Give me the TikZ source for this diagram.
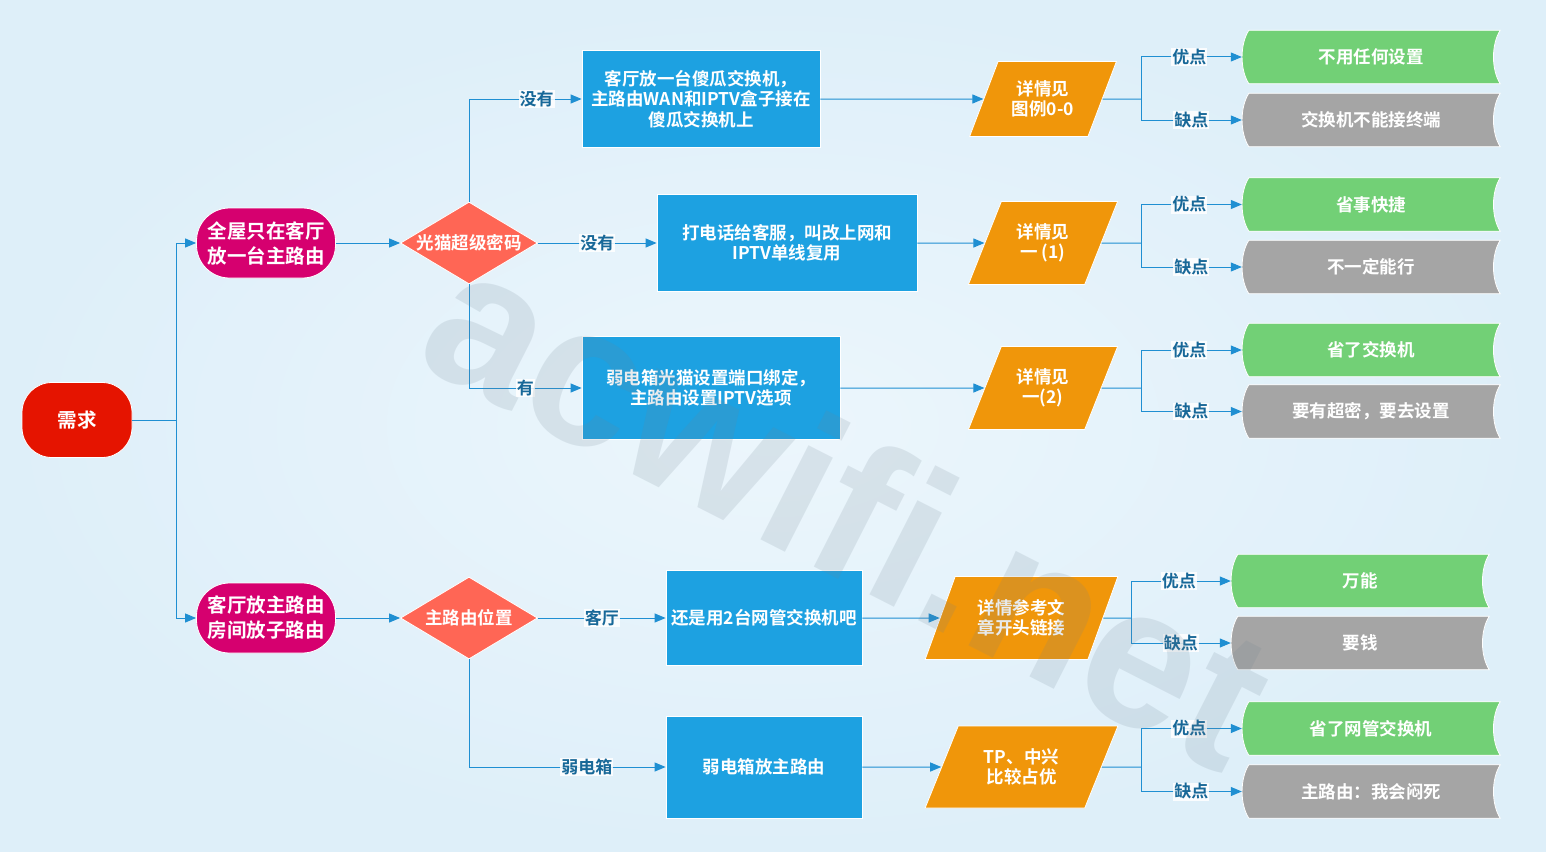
\documentclass[tikz,border=0pt]{standalone}
\usepackage{fontspec}
\setmainfont{Noto Sans CJK SC}[BoldFont={* Bold}]
\newfontfamily\wmfont{Liberation Sans}
\usetikzlibrary{shapes.geometric,arrows.meta,backgrounds}
\pgfdeclarelayer{bgl}
\pgfsetlayers{bgl,background,main}
\definecolor{bgc}{RGB}{222,239,249}
\definecolor{bgin}{RGB}{236,246,252}
\definecolor{boxblue}{RGB}{29,161,225}
\definecolor{orng}{RGB}{240,150,10}
\definecolor{dia}{RGB}{255,102,85}
\definecolor{mag}{RGB}{214,0,111}
\definecolor{redc}{RGB}{229,20,0}
\definecolor{grn}{RGB}{114,208,118}
\definecolor{gry}{RGB}{165,165,165}
\definecolor{ln}{RGB}{31,143,210}
\definecolor{lbl}{RGB}{24,104,152}
\definecolor{wmc}{RGB}{110,130,145}
\tikzset{
  base/.style={text=white, font=\bfseries\fontsize{17.5}{20.5}\selectfont, align=center,
    draw=white, line width=0.8pt, inner sep=0pt},
  stad/.style={base, font=\bfseries\fontsize{19.5}{25}\selectfont, minimum width=139pt, minimum height=70pt, rounded corners=33pt},
  procbox/.style={base, fill=boxblue},
  dec/.style={base, diamond, fill=dia, minimum width=137pt, minimum height=82pt},
  para/.style={base, trapezium, trapezium left angle=62, trapezium right angle=118,
    trapezium stretches=true, fill=orng},
  res/.style={text=white, font=\bfseries\fontsize{17.5}{20}\selectfont, inner sep=0pt,
    minimum width=258pt, minimum height=53pt},
  conn/.style={draw=ln, line width=1pt, -{Triangle[length=11pt,width=9pt]}},
  plain/.style={draw=ln, line width=1pt},
  lab/.style={fill=white, fill opacity=0.85, text opacity=1, text=lbl,
    font=\bfseries\fontsize{17}{17}\selectfont, inner sep=1pt}
}
\begin{document}
\begin{tikzpicture}[x=1pt,y=-1pt]
\useasboundingbox (0,0) rectangle (1546,851);
\begin{pgfonlayer}{bgl}
\shade[inner color=bgin, outer color=bgc] (0,0) rectangle (1546,851);
\end{pgfonlayer}

% root and first level
\node[stad, fill=redc, minimum width=110pt, minimum height=75pt, rounded corners=30pt] (need) at (77,420) {需求};
\node[stad, fill=mag] (m1) at (266,243) {全屋只在客厅\\放一台主路由};
\node[stad, fill=mag] (m2) at (266,618) {客厅放主路由\\房间放子路由};

% decisions
\node[dec] (d1) at (469,243) {\makebox[0pt]{光猫超级密码}};
\node[dec] (d2) at (469,618) {\makebox[0pt]{主路由位置}};

% process boxes
\node[procbox, minimum width=238pt, minimum height=97pt] (b1) at (701,99) {客厅放一台傻瓜交换机，\\主路由WAN和IPTV盒子接在\\傻瓜交换机上};
\node[procbox, minimum width=260pt, minimum height=97pt] (b2) at (787,243) {打电话给客服，叫改上网和\\IPTV单线复用};
\node[procbox, minimum width=258pt, minimum height=103pt] (b3) at (711,388) {弱电箱光猫设置端口绑定，\\主路由设置IPTV选项};
\node[procbox, minimum width=196pt, minimum height=95pt] (b4) at (764,618) {还是用2台网管交换机吧};
\node[procbox, minimum width=196pt, minimum height=102pt] (b5) at (764,767) {弱电箱放主路由};

% parallelograms
\node[para, minimum width=147pt, minimum height=75pt] (p1) at (1043,99) {详情见\\图例0-0};
\node[para, minimum width=150pt, minimum height=83pt] (p2) at (1043,243) {详情见\\一 (1)};
\node[para, minimum width=150pt, minimum height=83pt] (p3) at (1043,388) {详情见\\一(2)};
\node[para, minimum width=193pt, minimum height=83pt] (p4) at (1021.5,618) {详情参考文\\章开头链接};
\node[para, minimum width=193pt, minimum height=82pt] (p5) at (1021.5,767) {TP、中兴\\比较占优};

% results
\node[res] (r1a) at (1371,57) {不用任何设置};
\node[res] (r1b) at (1371,120) {交换机不能接终端};
\node[res] (r2a) at (1371,204.5) {省事快捷};
\node[res] (r2b) at (1371,267) {不一定能行};
\node[res] (r3a) at (1371,350) {省了交换机};
\node[res] (r3b) at (1371,411.5) {要有超密，要去设置};
\node[res] (r4a) at (1360,581) {万能};
\node[res] (r4b) at (1360,643) {要钱};
\node[res] (r5a) at (1371,728.5) {省了网管交换机};
\node[res] (r5b) at (1371,791.5) {主路由：我会闷死};

\begin{scope}[on background layer]
\foreach \n/\c in {r1a/grn,r1b/gry,r2a/grn,r2b/gry,r3a/grn,r3b/gry,r4a/grn,r4b/gry,r5a/grn,r5b/gry}{
  \path[fill=\c, draw=white, line width=0.8pt]
    ([xshift=7pt]\n.north west) -- (\n.north east)
    .. controls +(-9,14) and +(-9,-14) .. (\n.south east)
    -- ([xshift=7pt]\n.south west)
    .. controls +(-9,-14) and +(-9,14) .. ([xshift=7pt]\n.north west) -- cycle;
}
\end{scope}

% connectors
\coordinate (j0) at (176,420);
\draw[plain] (need.east) -- (j0);
\draw[conn] (j0) |- (m1.west);
\draw[conn] (j0) |- (m2.west);
\draw[conn] (m1.east) -- (d1.west);
\draw[conn] (m2.east) -- (d2.west);

\draw[conn] (d1.north) |- node[lab,pos=0.8]{没有} (b1.west);
\draw[conn] (d1.east) -- node[lab,pos=0.5]{没有} (b2.west);
\draw[conn] (d1.south) |- node[lab,pos=0.75]{有} (b3.west);
\draw[conn] (d2.east) -- node[lab,pos=0.5]{客厅} (b4.west);
\draw[conn] (d2.south) |- node[lab,pos=0.8]{弱电箱} (b5.west);

\draw[conn] (b1.east) -- (p1);
\draw[conn] (b2.east) -- (p2);
\draw[conn] (b3.east) -- (p3);
\draw[conn] (b4.east) -- (p4);
\draw[conn] (b5.east) -- (p5);

\coordinate (k1) at (1141,99);
\coordinate (k2) at (1141,243);
\coordinate (k3) at (1141,388);
\coordinate (k4) at (1131,618);
\coordinate (k5) at (1141,767);
\foreach \k/\p/\a/\b in {k1/p1/r1a/r1b,k2/p2/r2a/r2b,k3/p3/r3a/r3b,k4/p4/r4a/r4b,k5/p5/r5a/r5b}{
  \draw[plain] (\p.east) -- (\k);
  \draw[conn] (\k) |- node[lab,pos=0.74]{优点} (\a.west);
  \draw[conn] (\k) |- node[lab,pos=0.75]{缺点} (\b.west);
}

% watermark
\node[text=wmc, opacity=0.16, rotate=-27, font=\wmfont\bfseries\fontsize{200}{200}\selectfont] (wm) at (850,505) {acwifi.net};
\end{tikzpicture}
\end{document}
